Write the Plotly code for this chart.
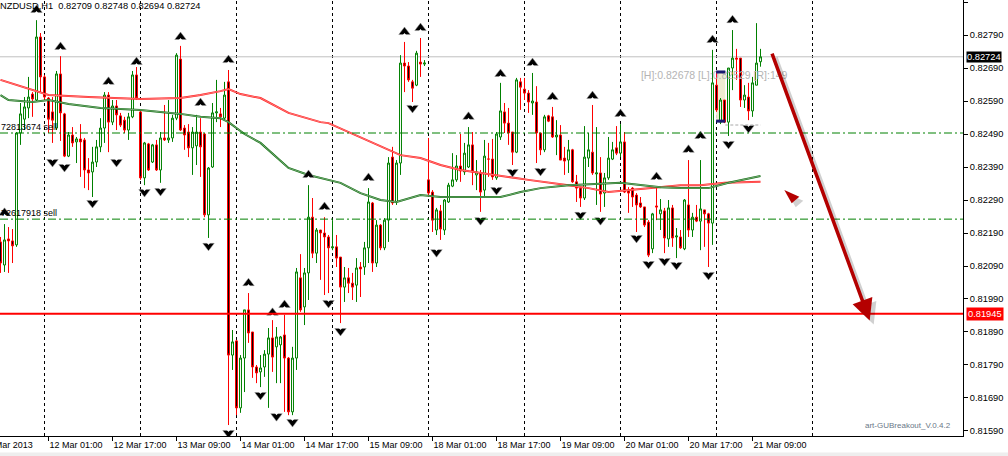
import plotly.graph_objects as go

symbol = "NZDUSD"
timeframe = "H1"

bar_open = [0.82163,0.82093,0.82172,0.82166,0.82154,0.82493,0.82535,0.82569,0.82611,0.82593,
0.82784,0.82663,0.82599,0.82557,0.82508,0.82672,0.82551,0.82423,0.82487,0.82466,
0.82475,0.82472,0.82381,0.82375,0.82405,0.82451,0.82508,0.82608,0.82526,0.82575,
0.82545,0.82532,0.82502,0.82542,0.82669,0.82557,0.82357,0.82460,0.82405,0.82457,
0.82381,0.82478,0.82472,0.82478,0.82538,0.82717,0.82508,0.82496,0.82448,0.82454,
0.82496,0.82490,0.82245,0.82390,0.82554,0.82551,0.82538,0.82648,0.81820,0.81863,
0.81660,0.81811,0.81957,0.81890,0.81784,0.81769,0.81784,0.81823,0.81872,0.81845,
0.81851,0.81881,0.81811,0.81648,0.81811,0.82054,0.81966,0.82069,0.82238,0.82129,
0.82199,0.82190,0.82178,0.82145,0.82148,0.82117,0.82026,0.82054,0.82038,0.82032,
0.82087,0.82087,0.82145,0.82281,0.82099,0.82214,0.82145,0.82229,0.82420,0.82284,
0.82402,0.82705,0.82696,0.82648,0.82638,0.82708,0.82702,0.82351,0.82314,0.82199,
0.82257,0.82199,0.82284,0.82332,0.82351,0.82393,0.82375,0.82390,0.82457,0.82366,
0.82372,0.82320,0.82414,0.82414,0.82357,0.82481,0.82557,0.82523,0.82496,0.82435,
0.82648,0.82626,0.82614,0.82584,0.82587,0.82493,0.82442,0.82545,0.82542,0.82481,
0.82487,0.82417,0.82411,0.82442,0.82345,0.82326,0.82296,0.82417,0.82435,0.82369,
0.82372,0.82311,0.82357,0.82414,0.82448,0.82432,0.82466,0.82320,0.82326,0.82305,
0.82281,0.82269,0.82223,0.82142,0.82272,0.82248,0.82257,0.82172,0.82266,0.82178,
0.82178,0.82142,0.82275,0.82199,0.82238,0.82226,0.82260,0.82248,0.82220,0.82638,
0.82526,0.82593,0.82526,0.82690,0.82720,0.82720,0.82593,0.82602,0.82560,0.82638,
0.82709]

bar_close = [0.82099,0.82169,0.82166,0.82151,0.82493,0.82551,0.82572,0.82602,0.82596,0.82784,
0.82663,0.82602,0.82535,0.82532,0.82672,0.82554,0.82423,0.82487,0.82463,0.82475,
0.82466,0.82381,0.82372,0.82405,0.82451,0.82508,0.82608,0.82526,0.82575,0.82548,
0.82517,0.82502,0.82542,0.82669,0.82599,0.82357,0.82463,0.82381,0.82457,0.82381,
0.82478,0.82472,0.82478,0.82538,0.82729,0.82502,0.82487,0.82448,0.82496,0.82496,
0.82451,0.82245,0.82387,0.82554,0.82557,0.82542,0.82608,0.81820,0.81860,0.81660,
0.81811,0.81957,0.81887,0.81784,0.81766,0.81781,0.81823,0.81872,0.81814,0.81875,
0.81875,0.81811,0.81648,0.81811,0.82072,0.81957,0.82069,0.82238,0.82129,0.82199,
0.82190,0.82178,0.82145,0.82148,0.82114,0.82026,0.82054,0.82038,0.82026,0.82084,
0.82081,0.82145,0.82284,0.82099,0.82214,0.82145,0.82229,0.82402,0.82281,0.82402,
0.82705,0.82696,0.82654,0.82629,0.82735,0.82702,0.82705,0.82311,0.82229,0.82260,
0.82202,0.82290,0.82335,0.82351,0.82393,0.82378,0.82432,0.82457,0.82375,0.82375,
0.82314,0.82423,0.82414,0.82360,0.82490,0.82560,0.82523,0.82493,0.82435,0.82654,
0.82632,0.82614,0.82587,0.82590,0.82493,0.82442,0.82542,0.82529,0.82481,0.82487,
0.82411,0.82408,0.82442,0.82345,0.82326,0.82296,0.82420,0.82442,0.82372,0.82372,
0.82308,0.82357,0.82417,0.82442,0.82432,0.82466,0.82314,0.82311,0.82299,0.82275,
0.82269,0.82214,0.82123,0.82248,0.82269,0.82260,0.82175,0.82266,0.82175,0.82181,
0.82145,0.82290,0.82199,0.82238,0.82226,0.82263,0.82248,0.82220,0.82645,0.82563,
0.82593,0.82526,0.82690,0.82720,0.82717,0.82593,0.82608,0.82560,0.82645,0.82705,
0.82724]

bar_high = [0.82178,0.82217,0.82208,0.82202,0.82496,0.82584,0.82602,0.82663,0.82617,0.82835,
0.82796,0.82669,0.82602,0.82602,0.82681,0.82726,0.82554,0.82496,0.82511,0.82481,
0.82520,0.82478,0.82417,0.82451,0.82472,0.82538,0.82617,0.82617,0.82593,0.82593,
0.82554,0.82542,0.82554,0.82681,0.82693,0.82563,0.82466,0.82463,0.82460,0.82472,
0.82496,0.82578,0.82593,0.82548,0.82735,0.82757,0.82517,0.82520,0.82511,0.82548,
0.82538,0.82493,0.82390,0.82584,0.82654,0.82569,0.82648,0.82684,0.81896,0.81866,
0.81820,0.81957,0.82008,0.81890,0.81790,0.81820,0.81835,0.81902,0.81926,0.81905,
0.81878,0.81942,0.81814,0.81845,0.82084,0.82126,0.82084,0.82335,0.82296,0.82205,
0.82199,0.82238,0.82184,0.82229,0.82184,0.82117,0.82087,0.82084,0.82069,0.82114,
0.82102,0.82163,0.82326,0.82284,0.82229,0.82217,0.82235,0.82420,0.82451,0.82411,
0.82729,0.82769,0.82708,0.82654,0.82742,0.82781,0.82714,0.82478,0.82320,0.82266,
0.82275,0.82293,0.82342,0.82432,0.82426,0.82490,0.82463,0.82511,0.82496,0.82411,
0.82381,0.82472,0.82463,0.82475,0.82496,0.82645,0.82584,0.82569,0.82496,0.82660,
0.82660,0.82660,0.82623,0.82675,0.82635,0.82493,0.82548,0.82548,0.82572,0.82532,
0.82517,0.82451,0.82472,0.82445,0.82366,0.82329,0.82514,0.82493,0.82578,0.82511,
0.82420,0.82372,0.82481,0.82466,0.82514,0.82520,0.82496,0.82329,0.82329,0.82311,
0.82299,0.82269,0.82229,0.82251,0.82326,0.82293,0.82266,0.82290,0.82275,0.82205,
0.82199,0.82293,0.82411,0.82251,0.82275,0.82411,0.82260,0.82251,0.82745,0.82678,
0.82599,0.82593,0.82690,0.82805,0.82748,0.82720,0.82638,0.82645,0.82663,0.82826,
0.82748]

bar_low = [0.82069,0.82072,0.82069,0.82099,0.82148,0.82457,0.82502,0.82538,0.82542,0.82590,
0.82617,0.82593,0.82493,0.82463,0.82502,0.82469,0.82420,0.82420,0.82451,0.82402,
0.82360,0.82326,0.82320,0.82299,0.82390,0.82435,0.82463,0.82435,0.82517,0.82502,
0.82511,0.82493,0.82472,0.82538,0.82593,0.82351,0.82335,0.82378,0.82402,0.82378,
0.82342,0.82469,0.82463,0.82466,0.82532,0.82499,0.82442,0.82420,0.82366,0.82396,
0.82360,0.82238,0.82175,0.82387,0.82526,0.82511,0.82532,0.81608,0.81775,0.81638,
0.81645,0.81708,0.81857,0.81751,0.81735,0.81723,0.81754,0.81660,0.81769,0.81735,
0.81735,0.81648,0.81638,0.81638,0.81775,0.81951,0.81911,0.81987,0.82114,0.82099,
0.82048,0.82002,0.82008,0.82138,0.82087,0.81917,0.81981,0.82008,0.81987,0.81981,
0.81996,0.82063,0.82099,0.82072,0.82087,0.82138,0.82138,0.82163,0.82275,0.82275,
0.82366,0.82617,0.82648,0.82587,0.82635,0.82663,0.82696,0.82299,0.82193,0.82184,
0.82169,0.82184,0.82281,0.82329,0.82345,0.82345,0.82366,0.82387,0.82335,0.82320,
0.82254,0.82296,0.82360,0.82351,0.82351,0.82472,0.82493,0.82457,0.82396,0.82432,
0.82563,0.82593,0.82554,0.82548,0.82402,0.82426,0.82435,0.82526,0.82478,0.82426,
0.82411,0.82366,0.82372,0.82342,0.82284,0.82269,0.82290,0.82390,0.82366,0.82275,
0.82254,0.82269,0.82351,0.82411,0.82426,0.82420,0.82311,0.82251,0.82269,0.82193,
0.82266,0.82208,0.82117,0.82129,0.82229,0.82199,0.82129,0.82148,0.82148,0.82114,
0.82142,0.82138,0.82178,0.82178,0.82223,0.82138,0.82148,0.82087,0.82154,0.82557,
0.82520,0.82523,0.82484,0.82623,0.82654,0.82572,0.82569,0.82532,0.82542,0.82638,
0.82694]

# moving averages read at selected bars
red_ma_bar = [0, 8, 12, 22, 35, 45, 50, 55, 57, 60, 65, 72, 80, 82, 87, 95, 100, 105, 110, 115,
              120, 127, 132, 142, 147, 152, 157, 165, 170, 175, 181, 190]
red_ma = [0.82654, 0.82623, 0.82608, 0.82602, 0.82596, 0.82599, 0.82608, 0.82620, 0.82626, 0.82611,
          0.82599, 0.82554, 0.82526, 0.82523, 0.82496, 0.82451, 0.82426, 0.82417, 0.82396, 0.82381,
          0.82372, 0.82360, 0.82351, 0.82335, 0.82326, 0.82314, 0.82320, 0.82329, 0.82335, 0.82335,
          0.82342, 0.82345]
green_ma_bar = [0, 2, 8, 12, 17, 25, 35, 45, 50, 55, 57, 61, 65, 72, 77, 85, 90, 95, 99, 105,
                110, 120, 125, 130, 135, 142, 147, 155, 165, 170, 177, 182, 190]
green_ma = [0.82608, 0.82593, 0.82587, 0.82593, 0.82581, 0.82569, 0.82563, 0.82551, 0.82542, 0.82538,
            0.82526, 0.82490, 0.82463, 0.82387, 0.82366, 0.82342, 0.82311, 0.82290, 0.82284, 0.82305,
            0.82299, 0.82299, 0.82299, 0.82314, 0.82326, 0.82335, 0.82338, 0.82342, 0.82329, 0.82326,
            0.82326, 0.82342, 0.82363]

# fractal arrows (glyph centres)
up_arrow_bar = [1, 9, 15, 27, 34, 45, 50, 57, 62, 68, 71, 77, 81, 92, 101, 105, 117, 125, 133, 138,
                148, 155, 164, 172, 175, 178, 183]
up_arrow_price = [0.82251, 0.82866, 0.82754, 0.82648, 0.82708, 0.82784, 0.82584, 0.82714, 0.82038, 0.81948,
                  0.81972, 0.82366, 0.82269, 0.82357, 0.82799, 0.82811, 0.82542, 0.82672, 0.82705, 0.82602,
                  0.82605, 0.82551, 0.82360, 0.82442, 0.82484, 0.82775, 0.82835]
down_arrow_bar = [13, 16, 23, 29, 36, 40, 52, 57, 65, 69, 73, 82, 85, 103, 109, 120, 124, 128, 135, 145,
                  150, 159, 162, 166, 169, 177, 182, 187]
down_arrow_price = [0.82405, 0.82390, 0.82281, 0.82405, 0.82314, 0.82317, 0.82151, 0.81584, 0.81699, 0.81635,
                    0.81617, 0.81978, 0.81893, 0.82569, 0.82132, 0.82229, 0.82320, 0.82375, 0.82378, 0.82245,
                    0.82229, 0.82175, 0.82096, 0.82105, 0.82093, 0.82063, 0.82460, 0.82508]

# time axis labels
time_tick_bar = [12, 28, 44, 60, 76, 92, 108, 124, 140, 156, 172, 188]
time_tick_text = ["12 Mar 01:00", "12 Mar 17:00", "13 Mar 09:00", "14 Mar 01:00", "14 Mar 17:00",
                  "15 Mar 09:00", "18 Mar 01:00", "18 Mar 17:00", "19 Mar 09:00", "20 Mar 01:00",
                  "20 Mar 17:00", "21 Mar 09:00"]
first_date_label = "11 Mar 2013"

price_ticks = [0.81590, 0.81690, 0.81790, 0.81890, 0.81990, 0.82090, 0.82190, 0.82290, 0.82390,
               0.82490, 0.82590, 0.82690, 0.82790, 0.82890]

order_prices = [0.82493, 0.82232]
order_labels = ["72813674 sell", "72617918 sell"]
target_price = 0.81945
bid_price = 0.82724

box_bars = [178.9, 181.2]
box_high = 0.82678
box_low = 0.82529

FONT = "Liberation Sans, Arial, sans-serif"
GREEN = "#008000"
RED = "#ff0000"

n = len(bar_open)
bars = list(range(n))

x_lo, x_hi = -0.125, 240.625
y_lo, y_hi = 0.815748, 0.828961
px_price = (y_hi - y_lo) / 436.0  # price per pixel, used only for glyph notch offset

fig = go.Figure()

# box label text (under candles)
box_text = "[H]:%.5f [L]:%.5f [R]:%d" % (box_high, box_low, round((box_high - box_low) * 1e5))
fig.add_trace(go.Scatter(x=[160.1], y=[0.826643], mode="text", text=[box_text],
                         textposition="middle right",
                         textfont=dict(family=FONT, size=10.5, color="#b4b4b4"),
                         hoverinfo="skip"))

fig.add_trace(go.Candlestick(
    x=bars, open=bar_open, high=bar_high, low=bar_low, close=bar_close,
    increasing=dict(line=dict(color=GREEN, width=1), fillcolor="#ffffff"),
    decreasing=dict(line=dict(color=RED, width=1), fillcolor="#000000"),
    whiskerwidth=0, hoverinfo="skip"))

fig.add_trace(go.Scatter(x=red_ma_bar, y=red_ma, mode="lines",
                         line=dict(color="#ff2020", width=2), hoverinfo="skip"))
fig.add_trace(go.Scatter(x=red_ma_bar, y=red_ma, mode="lines",
                         line=dict(color="#ffb0b0", width=0.6), hoverinfo="skip"))
fig.add_trace(go.Scatter(x=green_ma_bar, y=green_ma, mode="lines",
                         line=dict(color="#107010", width=2), hoverinfo="skip"))
fig.add_trace(go.Scatter(x=green_ma_bar, y=green_ma, mode="lines",
                         line=dict(color="#b8ccb8", width=0.6), hoverinfo="skip"))

# fractal arrow glyphs: solid arrowhead with a notch in its base
fig.add_trace(go.Scatter(x=up_arrow_bar, y=up_arrow_price, mode="markers",
                         marker=dict(symbol="triangle-up", size=10, color="#000000",
                                     line=dict(color="#9a9a9a", width=0.5)),
                         hoverinfo="skip"))
fig.add_trace(go.Scatter(x=up_arrow_bar, y=[p - 3.2 * px_price for p in up_arrow_price], mode="markers",
                         marker=dict(symbol="triangle-up", size=4.5, color="#ffffff", line=dict(width=0)),
                         hoverinfo="skip"))
fig.add_trace(go.Scatter(x=down_arrow_bar, y=down_arrow_price, mode="markers",
                         marker=dict(symbol="triangle-down", size=10, color="#000000",
                                     line=dict(color="#9a9a9a", width=0.5)),
                         hoverinfo="skip"))
fig.add_trace(go.Scatter(x=down_arrow_bar, y=[p + 3.2 * px_price for p in down_arrow_price], mode="markers",
                         marker=dict(symbol="triangle-down", size=4.5, color="#ffffff", line=dict(width=0)),
                         hoverinfo="skip"))

shapes = []
# vertical dashed grid
for k in range(9):
    gx = 11 + 24 * k
    shapes.append(dict(type="line", xref="x", yref="paper", x0=gx, x1=gx, y0=0, y1=1,
                       line=dict(color="#000000", width=1, dash="3px,3px"), layer="below"))
# bid line
shapes.append(dict(type="line", xref="paper", yref="y", x0=0, x1=1, y0=bid_price, y1=bid_price,
                   line=dict(color="#c0c0c0", width=1), layer="below"))
# box
shapes.append(dict(type="rect", xref="x", yref="y", x0=box_bars[0], x1=box_bars[1],
                   y0=box_low, y1=box_high, fillcolor="#eeebd0", line=dict(width=0), layer="below"))
for yy in (box_high, box_low):
    shapes.append(dict(type="line", xref="x", yref="y", x0=box_bars[0], x1=box_bars[1],
                       y0=yy, y1=yy, line=dict(color="#191970", width=3), layer="above"))
shapes.append(dict(type="line", xref="x", yref="y", x0=181.2, x1=190, y0=0.825173, y1=0.825173,
                   line=dict(color="#a8a8a8", width=1, dash="3px,2px"), layer="above"))
# order lines
for p in order_prices:
    shapes.append(dict(type="line", xref="paper", yref="y", x0=0, x1=1, y0=p, y1=p,
                       line=dict(color=GREEN, width=1, dash="8px,3px,2px,3px"), layer="above"))
# target line
shapes.append(dict(type="line", xref="paper", yref="y", x0=0, x1=1, y0=target_price, y1=target_price,
                   line=dict(color=RED, width=2), layer="above"))
# small triangle with shadow
shapes.append(dict(type="path", xref="x", yref="y",
                   path="M 196.9 0.82308 L 200.7 0.82288 L 198.8 0.82268 Z",
                   fillcolor="rgba(0,0,0,0.18)", line=dict(width=0), layer="above"))
shapes.append(dict(type="path", xref="x", yref="y",
                   path="M 195.95 0.82320 L 199.7 0.82300 L 197.8 0.82280 Z",
                   fillcolor="#b40000", line=dict(width=0), layer="above"))
# bottom window strip
shapes.append(dict(type="rect", xref="paper", yref="paper", x0=0, x1=1008 / 963,
                   y0=-20 / 436, y1=-16.5 / 436, fillcolor="#eeeeee", line=dict(width=0)))

annotations = []
title_text = "%s,%s  %.5f %.5f %.5f %.5f" % (symbol, timeframe, bar_open[-1], bar_high[-1],
                                             bar_low[-1], bar_close[-1])
annotations.append(dict(xref="paper", yref="paper", x=0, y=1, xanchor="left", yanchor="top",
                        xshift=-2, yshift=1, text=title_text, showarrow=False,
                        font=dict(family=FONT, size=9.3, color="#000000")))
for p, lab in zip(order_prices, order_labels):
    annotations.append(dict(xref="paper", yref="y", x=0, y=p, xanchor="left", yanchor="bottom",
                            xshift=-1, yshift=-1, text=lab, showarrow=False,
                            font=dict(family=FONT, size=9, color="#000000")))
# price labels on axis
annotations.append(dict(xref="paper", yref="y", x=1, y=bid_price, xanchor="left", yanchor="middle",
                        xshift=3, text="%.5f" % bid_price, showarrow=False, bgcolor="#000000",
                        borderpad=0, font=dict(family=FONT, size=9.3, color="#ffffff")))
annotations.append(dict(xref="paper", yref="y", x=1, y=target_price, xanchor="left", yanchor="middle",
                        xshift=3, text="%.5f" % target_price, showarrow=False, bgcolor=RED,
                        borderpad=1, font=dict(family=FONT, size=9.3, color="#ffffff")))
annotations.append(dict(xref="paper", yref="paper", x=35 / 963, y=-9 / 436, xanchor="right",
                        yanchor="middle", text=first_date_label, showarrow=False,
                        font=dict(family=FONT, size=9, color="#000000")))
annotations.append(dict(xref="paper", yref="paper", x=953 / 963, y=(436 - 425) / 436, xanchor="right",
                        yanchor="middle", text="art-GUBreakout_V.0.4.2", showarrow=False,
                        font=dict(family=FONT, size=8, color="#6a7888")))
# drawn red arrow with shadow
annotations.append(dict(xref="x", yref="y", axref="x", ayref="y", x=217.3, y=0.81925,
                        ax=192.75, ay=0.82738, text="", showarrow=True, arrowhead=2,
                        arrowsize=1.2, arrowwidth=3.5, arrowcolor="rgba(0,0,0,0.18)",
                        xshift=4, yshift=-4))
annotations.append(dict(xref="x", yref="y", axref="x", ayref="y", x=217.3, y=0.81925,
                        ax=192.75, ay=0.82738, text="", showarrow=True, arrowhead=2,
                        arrowsize=1.2, arrowwidth=3.5, arrowcolor="#b40000"))

fig.update_layout(
    width=1008, height=456,
    margin=dict(l=0, r=45, t=0, b=20, pad=0),
    paper_bgcolor="#ffffff", plot_bgcolor="#ffffff",
    showlegend=False,
    shapes=shapes, annotations=annotations,
    font=dict(family=FONT, size=9, color="#000000"),
    xaxis=dict(range=[x_lo, x_hi], rangeslider=dict(visible=False), showgrid=False, zeroline=False,
               showline=True, linecolor="#000000", linewidth=1, ticks="outside", ticklen=4,
               tickcolor="#000000", tickvals=time_tick_bar, ticktext=time_tick_text,
               ticklabelposition="outside right", tickfont=dict(family=FONT, size=9, color="#000000")),
    yaxis=dict(range=[y_lo, y_hi], side="right", showgrid=False, zeroline=False, showline=True,
               linecolor="#000000", linewidth=1, ticks="outside", ticklen=4, tickcolor="#000000",
               tickvals=price_ticks, ticktext=["%.5f" % v for v in price_ticks],
               tickfont=dict(family=FONT, size=9.3, color="#000000")),
)

fig.write_html("out.html", config={"displayModeBar": False},
               post_script="document.body.style.margin='0';document.body.style.overflow='hidden';")
